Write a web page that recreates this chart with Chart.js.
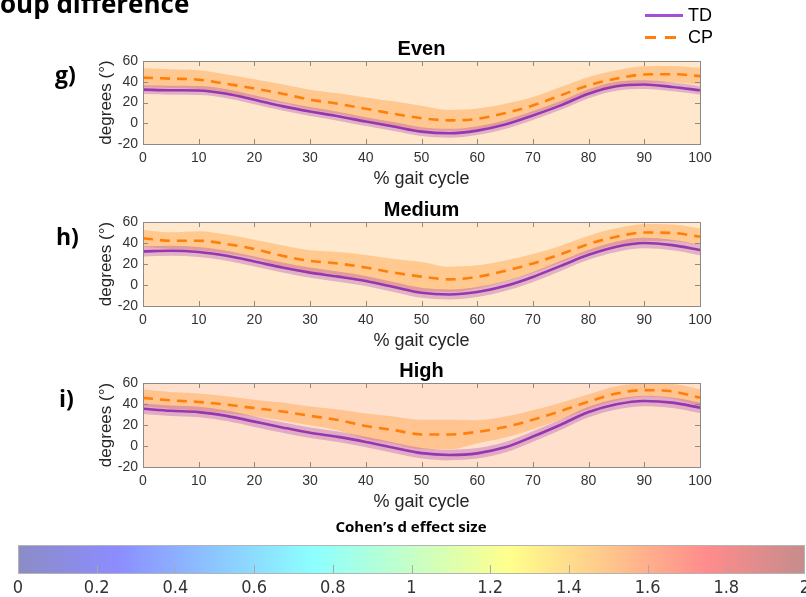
<!DOCTYPE html>
<html><head><meta charset="utf-8">
<script src="https://cdn.jsdelivr.net/npm/chart.js@4"></script>
<style>
body{margin:0;width:806px;height:597px;overflow:hidden;background:#fff;position:relative;font-family:"Liberation Sans",Arial,sans-serif}
canvas{position:absolute;left:0}
.bold{position:absolute;font-family:"Open Sans",sans-serif;font-weight:700;color:#000;white-space:nowrap;line-height:1}
.leg{position:absolute;font-family:"Liberation Sans",Arial,sans-serif;font-size:18px;line-height:20px;color:#000}
.seg{position:absolute;height:3px}
</style></head><body>
<script>
// ---- data ----
const gaitCycle = [0,5,10,15,20,25,30,35,40,45,50,55,60,65,70,75,80,85,90,95,100];
const xTicks = [0,10,20,30,40,50,60,70,80,90,100];
const xTickLabels = ['0','10','20','30','40','50','60','70','80','90','100'];
const yTicks = [-20,0,20,40,60];
const yTickLabels = ['-20','0','20','40','60'];
const effectTicks = [0,0.2,0.4,0.6,0.8,1,1.2,1.4,1.6,1.8,2];
const effectTickLabels = ['0','0.2','0.4','0.6','0.8','1','1.2','1.4','1.6','1.8','2'];
const panelTitles = ['Even','Medium','High'];
const panelLetters = ['g)','h)','i)'];

const evenTD   = [32.4,31.8,31.6,28.5,22.7,16.5,11.3,6.8,1.6,-3.2,-8.1,-9.7,-7.1,-1.3,7.5,17.2,28.5,35.7,37.3,35.0,31.8];
const evenTDsd = [4.3,4.3,4.3,4.3,4.3,4.3,4.3,4.3,4.3,4.3,4.3,4.3,4.3,4.3,4.3,4.3,4.3,4.3,4.2,4.2,4.2];
const evenCP   = [44.0,43.0,42.0,38.0,33.4,28.5,22.7,18.8,13.9,9.1,4.9,2.8,4.2,9.7,17.2,26.9,36.6,43.0,47.0,47.3,45.4];
const evenCPsd = [9,9,9,9,9,9,9.5,10,11,12,12,10,10,9,8,8,8,8,8,8,8];
const evenEffect = [1.49,1.49,1.49,1.49,1.49,1.49,1.49,1.49,1.49,1.49,1.49,1.49,1.49,1.49,1.49,1.49,1.49,1.49,1.49,1.49,1.49];

const mediumTD   = [32.0,32.6,31.4,27.8,22.4,16.6,11.8,8.0,3.8,-1.9,-7.4,-9.0,-6.7,-1.0,7.7,18.2,28.8,36.5,40.0,38.0,33.3];
const mediumTDsd = [4.8,4.8,4.8,4.8,4.8,4.8,4.8,4.8,4.8,4.8,4.8,4.8,4.8,4.8,4.8,4.8,4.8,5,5,5,5];
const mediumCP   = [44.5,42.2,42.2,39.0,34.2,27.8,23.0,20.5,16.6,11.8,8.0,5.4,7.7,13.4,20.5,29.4,39.0,46.0,50.0,49.6,46.0];
const mediumCPsd = [8,8,9,9,9,10,10,11,12,13,14,12,11,10,9,8,8,8,8,8,8];
const mediumEffect = [1.48,1.48,1.48,1.48,1.48,1.48,1.48,1.48,1.48,1.48,1.48,1.48,1.48,1.48,1.48,1.48,1.48,1.48,1.48,1.48,1.48];

const highTD   = [35.5,33.5,32.3,28.7,23.2,17.7,12.6,8.7,3.9,-1.6,-6.8,-8.5,-7.0,-1.3,9.0,20.3,32.3,39.7,42.9,41.3,36.5];
const highTDsd = [5,5,5,5,5,5,5,5,5,5,5,5,5,5,5,5,5,5,5,5,5];
const highCP   = [45.8,43.5,41.9,39.4,36.1,32.9,28.7,24.8,19.0,15.2,11.0,11.0,13.5,18.0,25.0,33.2,42.3,50.0,53.2,52.0,46.0];
const highCPsd = [8,8,8,8,8,8.5,9,10,12,13,14,14,11,10,9,8,7,7,6,7,8];
const highEffect = [1.55,1.55,1.55,1.55,1.55,1.55,1.55,1.55,1.55,1.55,1.55,1.55,1.55,1.55,1.55,1.55,1.55,1.55,1.55,1.55,1.55];

// ---- styles ----
const FONT = '"Liberation Sans", Arial, sans-serif';
const TD_COLOR = '#9636b0';
const CP_COLOR = '#ff7f0a';
const TD_BAND = 'rgba(155,50,175,0.30)';
const CP_BAND = 'rgba(255,140,25,0.34)';
const AXIS_COLOR = '#8a8a8a';
const TEXT_COLOR = '#333333';

function jet(t){
  const c = v => Math.max(0, Math.min(1, v));
  return [c(1.5-Math.abs(4*t-3)), c(1.5-Math.abs(4*t-2)), c(1.5-Math.abs(4*t-1))].map(v=>Math.round(v*255));
}
function effectColor(d, alpha){
  const [r,g,b] = jet(d/2);
  return `rgba(${r},${g},${b},${alpha})`;
}

const panelPlugin = {
  id:'panelDeco',
  beforeDatasetsDraw(chart, args, opts){
    const {ctx, chartArea:a, scales:{x}} = chart;
    ctx.save();
    const n = gaitCycle.length;
    for (let i=0;i<n;i++){
      const x0 = i===0 ? a.left : Math.round(x.getPixelForValue((gaitCycle[i-1]+gaitCycle[i])/2));
      const x1 = i===n-1 ? a.right : Math.round(x.getPixelForValue((gaitCycle[i]+gaitCycle[i+1])/2));
      ctx.fillStyle = effectColor(opts.effect[i], 0.2);
      ctx.fillRect(x0, a.top, x1-x0, a.bottom-a.top);
    }
    ctx.restore();
  },
  afterDraw(chart, args, opts){
    const {ctx, chartArea:a, scales:{x,y}} = chart;
    ctx.save();
    ctx.strokeStyle = AXIS_COLOR; ctx.lineWidth = 1;
    ctx.strokeRect(Math.round(a.left)+0.5, Math.round(a.top)+0.5, Math.round(a.right-a.left), Math.round(a.bottom-a.top));
    ctx.beginPath();
    xTicks.forEach(v=>{
      const px = Math.round(x.getPixelForValue(v))+0.5;
      ctx.moveTo(px, a.bottom); ctx.lineTo(px, a.bottom-5);
      ctx.moveTo(px, a.top); ctx.lineTo(px, a.top+5);
    });
    yTicks.forEach(v=>{
      const py = Math.round(y.getPixelForValue(v))+0.5;
      ctx.moveTo(a.left, py); ctx.lineTo(a.left+5, py);
      ctx.moveTo(a.right, py); ctx.lineTo(a.right-5, py);
    });
    ctx.stroke();
    ctx.fillStyle = '#000';
    ctx.font = 'bold 20px ' + FONT;
    ctx.textAlign = 'center'; ctx.textBaseline = 'alphabetic';
    ctx.fillText(opts.title, (a.left+a.right)/2, a.top-6);
    ctx.restore();
  }
};

function addCanvas(top, height){
  const c = document.createElement('canvas');
  c.width = 806; c.height = height;
  c.style.top = top+'px'; c.style.width='806px'; c.style.height=height+'px';
  document.body.appendChild(c);
  return c;
}

function makePanel(top, height, padTop, title, td, tdSd, cp, cpSd, effect){
  const canvas = addCanvas(top, height);
  const pts = arr => arr.map((v,i)=>({x:gaitCycle[i], y:v}));
  const up = (m,s)=>m.map((v,i)=>v+s[i]);
  const lo = (m,s)=>m.map((v,i)=>v-s[i]);
  const common = {pointRadius:0, pointHoverRadius:0, cubicInterpolationMode:'monotone', borderWidth:0};
  new Chart(canvas, {
    type:'line',
    data:{datasets:[
      {...common, label:'CP upper', data:pts(up(cp,cpSd)), fill:'+1', backgroundColor:CP_BAND, borderColor:'rgba(0,0,0,0)', order:5},
      {...common, label:'CP lower', data:pts(lo(cp,cpSd)), fill:false, borderColor:'rgba(0,0,0,0)', order:5},
      {...common, label:'TD upper', data:pts(up(td,tdSd)), fill:'+1', backgroundColor:TD_BAND, borderColor:'rgba(0,0,0,0)', order:3},
      {...common, label:'TD lower', data:pts(lo(td,tdSd)), fill:false, borderColor:'rgba(0,0,0,0)', order:3},
      {...common, label:'TD', data:pts(td), borderColor:TD_COLOR, borderWidth:2.6, fill:false, order:1},
      {...common, label:'CP', data:pts(cp), borderColor:CP_COLOR, borderWidth:2.6, borderDash:[10,7], fill:false, order:0}
    ]},
    options:{
      responsive:false, animation:false, events:[],
      layout:{padding:{left:0, right:106, top:padTop, bottom:0}},
      plugins:{legend:{display:false}, tooltip:{enabled:false}, title:{display:false}, panelDeco:{title, effect}},
      scales:{
        x:{type:'linear', min:0, max:100,
           afterBuildTicks:s=>{s.ticks = xTicks.map(v=>({value:v}));},
           afterFit:s=>{s.height = 56;},
           grid:{display:false, drawTicks:false}, border:{display:false},
           ticks:{autoSkip:false, maxRotation:0, padding:6, color:TEXT_COLOR, font:{size:14, family:FONT},
                  callback:(v,i)=>xTickLabels[i]},
           title:{display:true, text:'% gait cycle', color:'#262626', font:{size:18, family:FONT}, padding:{top:0, bottom:10}}},
        y:{type:'linear', min:-20, max:60,
           afterBuildTicks:s=>{s.ticks = yTicks.map(v=>({value:v}));},
           afterFit:s=>{s.width = 143;},
           grid:{display:false, drawTicks:false}, border:{display:false},
           ticks:{autoSkip:false, padding:5, color:TEXT_COLOR, font:{size:14, family:FONT},
                  callback:(v,i)=>yTickLabels[i]},
           title:{display:true, text:'degrees (°)', color:'#262626', font:{size:17, family:FONT}, padding:{top:96, bottom:0}}}
      }
    },
    plugins:[panelPlugin]
  });
}

makePanel(0, 200, 61, panelTitles[0], evenTD, evenTDsd, evenCP, evenCPsd, evenEffect);
makePanel(200, 162, 22, panelTitles[1], mediumTD, mediumTDsd, mediumCP, mediumCPsd, mediumEffect);
makePanel(362, 161, 21, panelTitles[2], highTD, highTDsd, highCP, highCPsd, highEffect);

// ---- colorbar ----
const colorbarPlugin = {
  id:'colorbar',
  beforeDatasetsDraw(chart){
    const {ctx, chartArea:a, scales:{x}} = chart;
    ctx.save();
    const g = ctx.createLinearGradient(x.getPixelForValue(effectTicks[0]), 0, x.getPixelForValue(effectTicks[effectTicks.length-1]), 0);
    for (let k=0;k<=64;k++){
      const t = k/64;
      const [r,gg,b] = jet(t);
      const al = 0.45;
      const mix = c => Math.round(c*al + 255*(1-al));
      g.addColorStop(t, `rgb(${mix(r)},${mix(gg)},${mix(b)})`);
    }
    ctx.fillStyle = g;
    ctx.fillRect(a.left, a.top, a.right-a.left, a.bottom-a.top);
    ctx.strokeStyle = '#a8a8a8'; ctx.lineWidth = 1;
    ctx.beginPath();
    effectTicks.slice(1,-1).forEach(v=>{
      const px = Math.round(x.getPixelForValue(v))+0.5;
      ctx.moveTo(px, a.bottom); ctx.lineTo(px, a.bottom-8);
    });
    ctx.stroke();
    ctx.strokeStyle = '#b4b4b4';
    ctx.strokeRect(Math.round(a.left)+0.5, Math.round(a.top)+0.5, Math.round(a.right-a.left)-1, Math.round(a.bottom-a.top));
    ctx.restore();
  }
};
const cb = addCanvas(523, 74);
new Chart(cb, {
  type:'line',
  data:{datasets:[]},
  options:{
    responsive:false, animation:false, events:[],
    layout:{padding:{left:18, right:1, top:22, bottom:0}},
    plugins:{legend:{display:false}, tooltip:{enabled:false}},
    scales:{
      x:{type:'linear', min:0, max:2,
         afterBuildTicks:s=>{s.ticks = effectTicks.map(v=>({value:v}));},
         afterFit:s=>{s.height = 24; s.paddingLeft = 0; s.paddingRight = 0;},
         grid:{display:false, drawTicks:false}, border:{display:false},
         ticks:{autoSkip:false, maxRotation:0, padding:5, color:TEXT_COLOR,
                font:{size:18, family:'"Liberation Sans Narrow", "DejaVu Sans Condensed", sans-serif'},
                callback:(v,i)=>effectTickLabels[i]}},
      y:{display:false, min:0, max:1}
    }
  },
  plugins:[colorbarPlugin]
});

// ---- text & legend ----
function addDiv(cls, html, style){
  const d = document.createElement('div');
  d.className = cls; d.innerHTML = html; d.setAttribute('style', style);
  document.body.appendChild(d);
  return d;
}
addDiv('bold', 'oup difference', 'left:0px;top:-10px;font-size:26px;');
addDiv('bold', panelLetters[0], 'left:55px;top:63px;font-size:23px;');
addDiv('bold', panelLetters[1], 'left:56px;top:225px;font-size:23px;');
addDiv('bold', panelLetters[2], 'left:59px;top:387px;font-size:23px;');
addDiv('bold', 'Cohen’s d effect size', 'left:0;width:822px;text-align:center;top:519px;font-size:15px;');
addDiv('seg', '', 'left:645px;top:14px;width:38px;background:#a44fd6;');
addDiv('leg', 'TD', 'left:688px;top:5px;');
addDiv('seg', '', 'left:645px;top:36px;width:11px;background:'+CP_COLOR+';');
addDiv('seg', '', 'left:665px;top:36px;width:11px;background:'+CP_COLOR+';');
addDiv('leg', 'CP', 'left:688px;top:27px;');
</script>
</body></html>
